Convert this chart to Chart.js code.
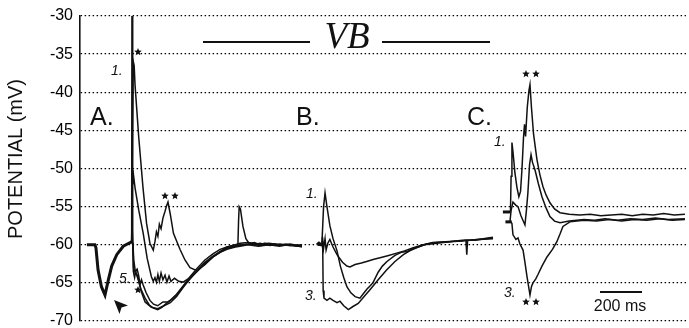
<!DOCTYPE html>
<html>
<head>
<meta charset="utf-8">
<script src="https://cdn.jsdelivr.net/npm/chart.js@4.4.1/dist/chart.umd.min.js"></script>
<style>
  html, body { margin: 0; padding: 0; background: #fff; }
</style>
</head>
<body>
<canvas id="vbChart" width="689" height="328"></canvas>
<script>
// time in ms from the left edge of the plot, potential in mV
const potentialTicks = [-30, -35, -40, -45, -50, -55, -60, -65, -70];
const timeRange = [0, 2886];

// Panel A - hyperpolarising dip before the stimulus (all sweeps overlap)
const preA = [[33,-60],[71,-60],[76,-60.4],[86,-63.3],[102,-65.5],[119,-66.6],[135,-64.6],[151,-62.8],[175,-61.3],[206,-60.2],[246,-59.6]];

const traceA0 = [[246,-59.6],[248,-15],[250,-15],[252,-58],[255,-63],[262,-63.6],[276,-64.2],[290,-66],[310,-67.5],[340,-68.2],[370,-68.4],[400,-68],[430,-67.6],[460,-66.8],[491,-65.6],[524,-64.4],[557,-63.4],[595,-62.3],[633,-61.5],[667,-60.9],[700,-60.4],[740,-60.1],[762,-60],[800,-59.9],[830,-59.7],[857,-60],[880,-59.8],[905,-60],[930,-59.9],[952,-60.1],[980,-59.9],[1000,-60],[1030,-60.2],[1057,-60.1]];
const traceA1 = [[246,-59.6],[250,-45],[254,-36],[258,-36.5],[262,-39],[280,-46],[300,-52.5],[317,-57.2],[333,-59.8],[349,-60.7],[357,-59.6],[364,-58.3],[371,-58.9],[378,-57.3],[386,-57.9],[395,-56.5],[405,-55.6],[412,-54.9],[419,-54.4],[430,-56],[445,-58.5],[460,-59.5],[476,-60.6],[500,-62],[524,-63],[557,-63.4],[595,-62.6],[633,-61.6],[667,-60.9],[700,-60.3],[740,-60],[762,-59.8],[800,-59.7],[850,-59.9],[900,-59.8],[950,-60],[1000,-60.1],[1057,-60.2]];
const traceA2 = [[246,-59.6],[249,-52],[252,-50.2],[262,-52.5],[280,-55.5],[301,-58.5],[320,-61.8],[340,-64.2],[349,-64.8],[357,-64.3],[364,-64.9],[371,-63.9],[378,-64.8],[386,-63.7],[395,-64.6],[405,-64],[414,-64.9],[424,-64.1],[433,-64.8],[450,-64.4],[470,-64.8],[491,-64.9],[524,-64.3],[557,-63.5],[595,-62.5],[633,-61.6],[667,-61],[700,-60.5],[740,-60.2],[762,-60.1],[810,-59.9],[860,-60.1],[910,-59.9],[960,-60.1],[1010,-60],[1057,-60.3]];
const traceA3 = [[246,-59.6],[251,-60],[254,-63.5],[260,-64.3],[266,-63.4],[272,-63.2],[279,-64],[286,-65.2],[293,-64.6],[300,-65.2],[315,-66.3],[333,-67.3],[350,-67.8],[370,-68],[395,-67.5],[419,-67.5],[440,-67.1],[460,-66.6],[491,-65.5],[524,-64.5],[557,-63.5],[595,-62.4],[633,-61.6],[667,-61],[700,-60.6],[740,-60.3],[762,-60.2],[800,-60],[850,-60.2],[900,-60],[950,-60.2],[1000,-59.9],[1057,-60.2]];
const traceA4 = [[246,-59.6],[252,-59.8],[256,-62],[262,-63.2],[276,-64.5],[290,-65.8],[310,-67],[330,-67.9],[350,-68.3],[370,-68.5],[390,-68.2],[410,-67.7],[430,-67.3],[460,-66.5],[491,-65.4],[524,-64.2],[557,-63.1],[595,-62],[633,-61.2],[667,-60.6],[700,-60.3],[730,-60.1],[752,-60],[755,-57],[758,-55],[764,-55.3],[776,-57.6],[790,-59.2],[805,-59.8],[824,-60],[857,-59.8],[905,-60.1],[952,-59.9],[1000,-60.1],[1057,-60]];

// Panel B
const preB = [[1129,-60],[1138,-59.8],[1148,-60],[1152,-59.9]];
const traceB1 = [[1152,-59.9],[1160,-55],[1167,-53.2],[1175,-54.8],[1190,-57.5],[1205,-59.2],[1224,-60.8],[1240,-62.8],[1256,-64.3],[1271,-65.5],[1290,-66.3],[1310,-66.8],[1333,-67],[1350,-66.4],[1367,-65.8],[1381,-65.4],[1395,-65],[1420,-63.6],[1440,-62.8],[1462,-62.2],[1500,-61.4],[1530,-61],[1557,-60.9],[1586,-60.5],[1619,-60.2],[1650,-59.9],[1700,-59.7],[1760,-59.6],[1820,-59.4],[1880,-59.4],[1930,-59.2],[1967,-59.1]];
const traceB2 = [[1152,-59.9],[1155,-59],[1160,-60.5],[1167,-59.2],[1172,-60.7],[1180,-59.8],[1190,-59.3],[1205,-60.3],[1224,-61.3],[1250,-62.3],[1271,-62.8],[1286,-62.9],[1310,-62.6],[1340,-62.4],[1365,-62.2],[1400,-61.9],[1429,-61.7],[1470,-61.4],[1508,-61.1],[1545,-60.8],[1587,-60.4],[1635,-60],[1680,-59.7],[1740,-59.6],[1800,-59.5],[1860,-59.4],[1920,-59.2],[1967,-59]];
const traceB3 = [[1152,-59.9],[1156,-60.5],[1158,-66],[1162,-67],[1176,-67.3],[1190,-67],[1205,-67.3],[1224,-67.6],[1238,-67.4],[1256,-68],[1278,-68.5],[1300,-68.1],[1325,-67.7],[1350,-66.9],[1381,-65.9],[1420,-64.6],[1460,-63.3],[1500,-62.2],[1540,-61.3],[1570,-60.8],[1603,-60.4],[1640,-60],[1700,-59.8],[1760,-59.6],[1820,-59.5],[1838,-59.4],[1842,-61.3],[1846,-59.4],[1900,-59.3],[1967,-59.2]];

// Panel C
const preC1 = [[2014,-55.7],[2050,-55.7]];
const preC2 = [[2026,-57],[2056,-57]];
const traceC1 = [[2050,-55.7],[2053,-51],[2057,-46.6],[2062,-47.8],[2071,-50.5],[2081,-52.5],[2090,-53.7],[2098,-53],[2105,-50],[2112,-46],[2117,-44.2],[2122,-45.8],[2130,-42],[2138,-39.8],[2143,-39],[2150,-42],[2160,-45.5],[2176,-48.8],[2190,-50.8],[2205,-52.4],[2220,-53.5],[2238,-54.5],[2260,-55.3],[2286,-55.8],[2330,-56],[2380,-56.1],[2430,-56],[2480,-56.2],[2530,-56.1],[2580,-56],[2630,-56.2],[2680,-56],[2730,-56.1],[2780,-55.9],[2830,-56.1],[2881,-56]];
const traceC2 = [[2048,-56.9],[2053,-55.5],[2062,-54.4],[2075,-54.8],[2086,-55],[2100,-56.2],[2119,-57.4],[2126,-55.5],[2133,-53.2],[2141,-49.5],[2148,-48.2],[2155,-49.2],[2167,-50.2],[2183,-52],[2200,-53.7],[2220,-55.2],[2238,-56.3],[2260,-56.9],[2286,-57.1],[2330,-56.9],[2400,-56.7],[2450,-56.8],[2500,-56.6],[2560,-56.8],[2620,-56.6],[2680,-56.7],[2740,-56.5],[2800,-56.7],[2881,-56.6]];
const traceC3 = [[2052,-57],[2057,-57.2],[2062,-58.7],[2076,-59.3],[2086,-59.1],[2095,-59.9],[2110,-60.7],[2119,-62.3],[2129,-64.2],[2143,-66.6],[2150,-65.5],[2157,-65],[2170,-64.5],[2181,-63.9],[2200,-62.8],[2224,-61.6],[2250,-60.6],[2271,-59.6],[2286,-58.6],[2300,-57.6],[2333,-57],[2400,-56.8],[2460,-56.9],[2520,-56.7],[2580,-56.9],[2640,-56.7],[2700,-56.8],[2760,-56.6],[2820,-56.8],[2881,-56.7]];

const pts = arr => arr.map(p => ({ x: p[0], y: p[1] }));

function sweep(arr, width) {
    return {
        data: pts(arr),
        borderColor: '#111',
        borderWidth: width,
        pointRadius: 0,
        tension: 0,
        fill: false
    };
}

const thickRuns = [preA, preB, preC1, preC2];
const thinRuns = [traceA0, traceA1, traceA2, traceA3, traceA4, traceB1, traceB2, traceB3, traceC1, traceC2, traceC3];

function drawStar(ctx, cx, cy, r) {
    ctx.beginPath();
    for (let i = 0; i < 10; i++) {
        const a = -Math.PI / 2 + i * Math.PI / 5;
        const rr = i % 2 ? r * 0.45 : r;
        ctx.lineTo(cx + rr * Math.cos(a), cy + rr * Math.sin(a));
    }
    ctx.closePath();
    ctx.fill();
}

// panel letters, sweep numbers, stars, title and scale bar
const figureLabels = {
    id: 'figureLabels',
    afterDraw(chart) {
        const ctx = chart.ctx;
        ctx.save();
        ctx.fillStyle = '#111';
        ctx.strokeStyle = '#111';

        // axis title
        ctx.save();
        ctx.translate(16, 159);
        ctx.rotate(-Math.PI / 2);
        ctx.font = '20px "Liberation Sans", Arial, sans-serif';
        ctx.textAlign = 'center';
        ctx.textBaseline = 'middle';
        ctx.fillText('POTENTIAL (mV)', 0, 0);
        ctx.restore();

        ctx.textAlign = 'left';
        ctx.textBaseline = 'alphabetic';
        ctx.font = '25px "Liberation Sans", Arial, sans-serif';
        ctx.fillText('A.', 90, 125);
        ctx.fillText('B.', 296, 125);
        ctx.fillText('C.', 467, 125);

        ctx.font = 'italic 14px "Liberation Sans", Arial, sans-serif';
        ctx.fillText('1.', 111, 75);
        ctx.fillText('1.', 306, 198);
        ctx.fillText('1.', 494, 146);
        ctx.fillText('5.', 119, 283);
        ctx.fillText('3.', 305, 300);
        ctx.fillText('3.', 504, 297);

        drawStar(ctx, 138, 52, 4);
        drawStar(ctx, 138, 290, 4);
        drawStar(ctx, 165, 196, 4);
        drawStar(ctx, 175, 196, 4);
        drawStar(ctx, 526, 74, 4);
        drawStar(ctx, 536, 74, 4);
        drawStar(ctx, 526, 302, 4);
        drawStar(ctx, 536, 302, 4);

        // arrow pointing at the dip
        ctx.beginPath();
        ctx.moveTo(114, 300);
        ctx.lineTo(128, 305.5);
        ctx.lineTo(121.5, 307.5);
        ctx.lineTo(119.5, 314);
        ctx.closePath();
        ctx.fill();

        // VB title
        ctx.lineWidth = 2;
        ctx.beginPath();
        ctx.moveTo(203, 42); ctx.lineTo(310, 42);
        ctx.moveTo(382, 42); ctx.lineTo(490, 42);
        ctx.stroke();
        ctx.font = 'italic 37px "Liberation Serif", "Times New Roman", serif';
        ctx.textAlign = 'center';
        ctx.fillText('VB', 347, 48);

        // scale bar
        ctx.lineWidth = 1.8;
        ctx.beginPath();
        ctx.moveTo(600, 292); ctx.lineTo(642, 292);
        ctx.stroke();
        ctx.font = '16px "Liberation Sans", Arial, sans-serif';
        ctx.fillText('200 ms', 620, 311);

        ctx.restore();
    }
};

const ctx = document.getElementById('vbChart').getContext('2d');

new Chart(ctx, {
    type: 'line',
    data: {
        datasets: [
            ...thinRuns.map(r => sweep(r, 1.5)),
            ...thickRuns.map(r => sweep(r, 3))
        ]
    },
    options: {
        responsive: false,
        animation: false,
        devicePixelRatio: 1,
        layout: {
            padding: { left: 0, top: 16, right: 3, bottom: 7 }
        },
        plugins: {
            legend: { display: false },
            tooltip: { enabled: false }
        },
        scales: {
            x: {
                type: 'linear',
                display: false,
                min: timeRange[0],
                max: timeRange[1]
            },
            y: {
                type: 'linear',
                min: potentialTicks[potentialTicks.length - 1],
                max: potentialTicks[0],
                afterBuildTicks: scale => {
                    scale.ticks = potentialTicks.map(v => ({ value: v }));
                },
                afterFit: scale => {
                    scale.width = 80;
                    scale.paddingTop = 0;
                    scale.paddingBottom = 0;
                },
                grid: {
                    color: '#000',
                    lineWidth: 1.3,
                    drawTicks: false
                },
                border: {
                    display: true,
                    color: '#111',
                    width: 1.6,
                    dash: [1.5, 2.5]
                },
                ticks: {
                    color: '#000',
                    padding: 7,
                    font: { family: '"Liberation Sans", Arial, sans-serif', size: 16 }
                }
            }
        }
    },
    plugins: [figureLabels]
});
</script>
</body>
</html>
